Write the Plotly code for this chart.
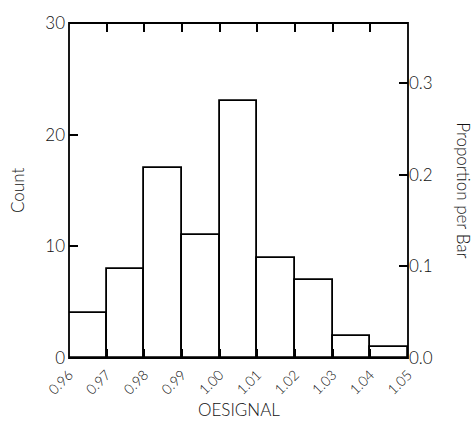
import plotly.graph_objects as go

# Histogram of OESIGNAL: bin edges and counts per bin
bin_edges = [0.96, 0.97, 0.98, 0.99, 1.00, 1.01, 1.02, 1.03, 1.04, 1.05]
counts = [4, 8, 17, 11, 23, 9, 7, 2, 1]
count_ticks = [0, 10, 20, 30]
prop_ticks = [0.0, 0.1, 0.2, 0.3]

total = sum(counts)
bin_width = bin_edges[1] - bin_edges[0]
centers = [(a + b) / 2 for a, b in zip(bin_edges[:-1], bin_edges[1:])]

FONT = "Lato"
INK = "#111111"
LW = 1.8

fig = go.Figure()
fig.add_trace(go.Bar(
    x=centers, y=counts, width=bin_width,
    marker=dict(color="white", line=dict(color="black", width=LW)),
    hoverinfo="x+y", showlegend=False,
))
# invisible trace so the proportion axis is drawn
fig.add_trace(go.Scatter(
    x=[bin_edges[0]], y=[0], yaxis="y2", mode="markers",
    marker=dict(opacity=0), hoverinfo="skip", showlegend=False,
))

tick_style = dict(ticks="inside", ticklen=9, tickwidth=LW, tickcolor="black",
                  showgrid=False, zeroline=False)

fig.update_layout(
    width=475, height=426,
    margin=dict(l=69, r=67, t=19, b=68),
    paper_bgcolor="white", plot_bgcolor="white",
    font=dict(family=FONT, color=INK, size=16, weight=300),
    bargap=0,
    xaxis=dict(
        range=[bin_edges[0], bin_edges[-1]],
        tickmode="array", tickvals=bin_edges,
        ticktext=[f"{v:.2f}" for v in bin_edges],
        tickangle=-45, tickfont=dict(size=14, weight=300, color=INK),
        ticklabelstandoff=5,
        showline=False, mirror="ticks", **tick_style,
    ),
    yaxis=dict(
        range=[0, count_ticks[-1]],
        tickmode="array", tickvals=count_ticks,
        tickfont=dict(size=17, weight=300, color=INK),
        ticklabelstandoff=3,
        showline=False, **tick_style,
    ),
    yaxis2=dict(
        overlaying="y", side="right",
        range=[0, count_ticks[-1] / total],
        tickmode="array", tickvals=prop_ticks,
        ticktext=[f"{v:.1f}" for v in prop_ticks],
        tickfont=dict(size=17, weight=300, color=INK),
        showline=False, **tick_style,
    ),
    # frame around the plotting area
    shapes=[dict(type="rect", xref="paper", yref="paper", x0=0, y0=0, x1=1, y1=1,
                 line=dict(color="black", width=LW), layer="above")],
    annotations=[
        dict(text="Count", xref="paper", yref="paper", x=-0.152, y=0.5,
             xanchor="center", yanchor="middle", textangle=-90,
             showarrow=False, font=dict(size=17, weight=300, color=INK)),
        dict(text="Proportion per Bar", xref="paper", yref="paper", x=1.163, y=0.5,
             xanchor="center", yanchor="middle", textangle=90,
             showarrow=False, font=dict(size=17, weight=300, color=INK)),
        dict(text="OESIGNAL", xref="paper", yref="paper", x=0.5, y=-0.155,
             xanchor="center", yanchor="middle",
             showarrow=False, font=dict(size=17, weight=300, color=INK)),
    ],
)

fig.write_html("out.html")
